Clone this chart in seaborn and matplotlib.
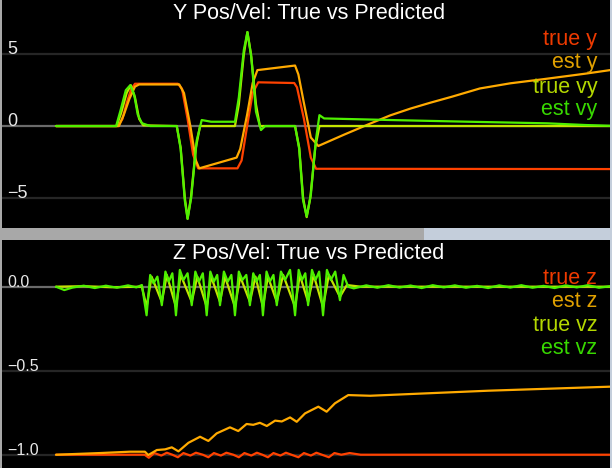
import matplotlib
matplotlib.use("Agg")
import matplotlib.pyplot as plt
import matplotlib.transforms as mtransforms
from matplotlib.patches import Rectangle
import seaborn as sns
import pandas as pd

# ---------------- data (time in s) ----------------
true_y_t = [0, 2.24, 2.40, 2.55, 2.70, 2.85, 4.40, 4.55, 4.75, 4.95, 5.13, 6.55, 6.70, 6.90, 7.10, 7.30, 8.60, 8.70, 8.95, 9.20, 9.39, 20]
true_y_v = [0, 0, 0.5, 1.6, 2.5, 2.95, 2.95, 2.6, 0.5, -2.0, -2.95, -2.95, -2.4, 0.0, 2.3, 3.05, 3.0, 2.7, 0.5, -2.2, -2.98, -3.0]

est_y_t = [0, 2.27, 2.45, 2.65, 2.85, 3.0, 4.45, 4.62, 4.85, 5.05, 5.17, 6.52, 6.65, 6.90, 7.10, 7.27, 8.63, 8.75, 8.95, 9.20, 9.47,
           10.4, 11.34, 12.06, 12.8, 13.5, 14.3, 15.3, 16.4, 17.6, 19.1, 20]
est_y_v = [0, 0, 0.8, 1.9, 2.75, 2.9, 2.9, 2.3, 0.0, -2.4, -2.95, -2.2, -1.6, 0.8, 3.0, 3.9, 4.22, 3.6, 1.6, -0.8, -1.39,
           -0.6, 0.17, 0.74, 1.22, 1.62, 2.05, 2.62, 2.98, 3.27, 3.65, 3.9]

true_vy_t = [0, 2.19, 2.35, 2.55, 2.70, 2.85, 3.0, 3.15, 4.36, 4.50, 4.65, 4.75, 4.87, 5.05, 5.20, 6.46, 6.60, 6.78, 6.91, 7.04, 7.22, 7.36, 8.63, 8.78, 8.92, 9.05, 9.18, 9.36, 9.51, 20]
true_vy_v = [0, 0, 0.9, 2.3, 2.85, 2.0, 0.5, 0.05, 0, -1.5, -5.0, -6.45, -5.0, -1.5, 0.0, 0.0, 1.5, 5.0, 6.55, 5.0, 1.5, 0.0, 0, -1.5, -5.0, -6.35, -5.0, -1.5, 0.0, 0]

est_vy_t = [0, 2.17, 2.33, 2.52, 2.68, 2.82, 2.95, 3.10, 3.40, 4.36, 4.50, 4.65, 4.75, 4.88, 5.08, 5.26, 5.6, 6.46, 6.60, 6.78, 6.91, 7.05, 7.22, 7.40, 7.55, 8.63, 8.78, 8.92, 9.05, 9.20, 9.38, 9.51, 9.68, 12.06, 14.91, 17.73, 19.13, 20]
est_vy_v = [0, 0, 1.1, 2.5, 2.85, 2.2, 0.8, 0.2, 0.0, 0.0, -1.6, -5.2, -6.48, -5.0, -1.0, 0.42, 0.3, 0.3, 2.0, 5.3, 6.55, 4.8, 1.0, -0.28, 0.0, 0.0, -1.6, -5.2, -6.3, -4.8, -1.0, 0.76, 0.53, 0.42, 0.30, 0.19, 0.07, 0.02]

true_z_t = [0, 3.2, 3.35, 3.55, 3.8, 4.0, 4.2, 4.4, 4.6, 4.85, 5.05, 5.3, 5.5, 5.7, 5.95, 6.15, 6.4, 6.6, 6.8, 7.05, 7.25, 7.45, 7.65, 7.85, 8.1, 8.3, 8.5, 8.75, 8.95, 9.2, 9.4, 9.6, 9.85, 10.05, 10.3, 10.6, 11.0, 20]
true_z_v = [-1.0, -1.0, -1.018, -0.99, -1.005, -0.988, -1.0, -1.015, -0.99, -1.005, -0.988, -1.0, -1.015, -0.99, -1.005, -0.988, -1.0, -1.015, -0.99, -1.005, -0.988, -1.0, -1.015, -0.99, -1.005, -0.988, -1.0, -1.015, -0.99, -1.005, -0.988, -1.0, -1.015, -0.99, -1.0, -0.99, -1.0, -1.0]

est_z_t = [0, 1.59, 2.67, 3.21, 3.33, 3.64, 3.94, 4.18, 4.42, 4.78, 5.20, 5.50, 5.80, 6.28, 6.58, 6.88, 7.12, 7.36, 7.61, 7.91, 8.15, 8.45, 8.69, 8.99, 9.47, 9.77, 10.07, 10.55, 11.34, 15.60, 20.0]
est_z_v = [-1.0, -0.99, -0.982, -0.982, -1.002, -0.972, -0.968, -0.956, -0.98, -0.929, -0.893, -0.918, -0.873, -0.837, -0.859, -0.817, -0.822, -0.81, -0.829, -0.797, -0.802, -0.778, -0.804, -0.754, -0.714, -0.744, -0.694, -0.645, -0.649, -0.619, -0.595]

est_vz_t = [0, 0.3, 0.6, 1.0, 1.4, 1.8, 2.2, 2.6, 2.9, 3.1,
            3.27, 3.40, 3.52, 3.66, 3.82, 3.95, 4.07, 4.20, 4.33, 4.47, 4.60, 4.75,
            4.90, 5.03, 5.16, 5.30, 5.44, 5.57, 5.70, 5.82, 5.92, 6.06, 6.20, 6.33,
            6.46, 6.60, 6.73, 6.87, 7.00, 7.12, 7.24, 7.36, 7.47, 7.60, 7.72, 7.85,
            7.97, 8.12, 8.27, 8.45, 8.63, 8.76, 8.88, 9.00, 9.10, 9.24, 9.37, 9.50,
            9.64, 9.78, 9.92, 10.08, 10.25, 10.38, 10.55, 10.75,
            11.2, 11.6, 12.0, 12.4, 12.8, 13.2, 13.6, 14.0, 14.4, 14.8, 15.2, 15.6,
            16.0, 16.4, 16.8, 17.2, 17.6, 18.0, 18.4, 18.8, 19.2, 19.6, 20.0]
est_vz_v = [0.0, -0.02, -0.005, 0.006, -0.008, 0.006, -0.006, 0.008, -0.004, 0.01,
            -0.17, 0.07, 0.02, 0.06, -0.11, 0.09, 0.03, 0.08, -0.17, 0.10, 0.04, 0.08,
            -0.11, 0.09, 0.03, 0.08, -0.17, 0.09, 0.03, 0.07, -0.11, 0.09, 0.03, 0.07,
            -0.17, 0.09, 0.04, 0.07, -0.11, 0.08, 0.03, 0.07, -0.17, 0.09, 0.03, 0.07,
            -0.11, 0.09, 0.04, 0.10, -0.17, 0.10, 0.04, 0.08, -0.11, 0.10, 0.04, 0.09,
            -0.17, 0.10, 0.04, 0.09, -0.08, 0.07, 0.0, -0.01,
            0.008, -0.006, 0.009, -0.005, 0.007, -0.008, 0.009, -0.004, 0.008, -0.006, 0.005, -0.008,
            0.008, -0.005, 0.009, -0.006, 0.005, -0.008, 0.008, -0.004, 0.009, -0.006, 0.003]

true_vz_t = [0, 1.0, 2.0, 3.1, 3.27, 3.45, 3.82, 4.0, 4.33, 4.5, 4.90, 5.1, 5.44, 5.6, 5.92, 6.1,
             6.46, 6.65, 7.00, 7.2, 7.47, 7.65, 7.97, 8.2, 8.63, 8.8, 9.10, 9.3, 9.64, 9.85, 10.25, 10.5, 11.0, 20.0]
true_vz_v = [0, 0.003, -0.003, 0.0, -0.12, 0.06, -0.09, 0.07, -0.12, 0.07, -0.09, 0.06, -0.12, 0.06, -0.09, 0.06,
             -0.12, 0.06, -0.09, 0.06, -0.12, 0.06, -0.09, 0.07, -0.12, 0.07, -0.09, 0.07, -0.12, 0.07, -0.06, 0.01, 0.0, 0.0]

top_labels = ["true y", "est y", "true vy", "est vy"]
bot_labels = ["true z", "est z", "true vz", "est vz"]
top_ticks = [5, 0, -5]
bot_ticks = [0.0, -0.5, -1.0]
top_tick_text = ["5", "0", "\u22125"]
bot_tick_text = ["0.0", "\u22120.5", "\u22121.0"]

colors = ["#ff4200", "#ffaa00", "#c4e400", "#4ef000"]
text_colors = ["#ee3a00", "#e0a000", "#b4d800", "#38d800"]

sns.set_theme(style="dark")
plt.rcParams['font.family'] = ['Liberation Sans', 'DejaVu Sans']

fig = plt.figure(figsize=(6.12, 4.68), dpi=100, facecolor="#a8a8a8")
ax1 = fig.add_axes([2/612, 240/468, 608/612, 228/468])
ax2 = fig.add_axes([2/612, 0, 608/612, 228/468])

# window chrome bits
fig.patches.append(Rectangle((424/612, 228/468), 188/612, 12/468, transform=fig.transFigure,
                             facecolor="#c4cedb", edgecolor="none", zorder=0))
fig.patches.append(Rectangle((610/612, 0), 2/612, 1, transform=fig.transFigure,
                             facecolor="#c4cedb", edgecolor="none", zorder=0))

def style(ax, ylim, ticks, ticktext, tfs, title):
    ax.set_facecolor("black")
    ax.set_xlim(-1.95, 20.0)
    ax.set_ylim(*ylim)
    for s in ax.spines.values():
        s.set_visible(False)
    ax.set_xticks([]); ax.set_yticks([])
    ax.set_xlabel(""); ax.set_ylabel("")
    trans = mtransforms.blended_transform_factory(ax.transAxes, ax.transData)
    for v, txt in zip(ticks, ticktext):
        ax.axhline(v, color="#6a6a6a" if v == 0 else "#262626", lw=1.6, zorder=1)
        ax.text(0.009, v, txt, transform=trans, color="#e8e8e8", fontsize=tfs,
                ha="left", va="baseline", zorder=5)
    ax.text(0.505, 0.985, title, transform=ax.transAxes, color="white", fontsize=15.5,
            ha="center", va="top", zorder=5)

style(ax1, (-7.11, 8.79), top_ticks, top_tick_text, 13, "Y Pos/Vel: True vs Predicted")
style(ax2, (-1.079, 0.278), bot_ticks, bot_tick_text, 11.5, "Z Pos/Vel: True vs Predicted")

top_series = [(true_y_t, true_y_v), (est_y_t, est_y_v), (true_vy_t, true_vy_v), (est_vy_t, est_vy_v)]
bot_series = [(true_z_t, true_z_v), (est_z_t, est_z_v), (true_vz_t, true_vz_v), (est_vz_t, est_vz_v)]

for ax, series, labels, ys in [(ax1, top_series, top_labels, [0.825, 0.724, 0.618, 0.518]),
                               (ax2, bot_series, bot_labels, [0.833, 0.729, 0.627, 0.526])]:
    for (t, v), c, lab, tc, yy in zip(series, colors, labels, text_colors, ys):
        df = pd.DataFrame({"t": t, "v": v})
        sns.lineplot(data=df, x="t", y="v", ax=ax, color=c, lw=1.6, estimator=None,
                     sort=False, zorder=3)
        ax.text(0.979, yy, lab, transform=ax.transAxes, color=tc, fontsize=15.5,
                ha="right", va="center", zorder=6)
    ax.set_xlabel(""); ax.set_ylabel("")

fig.savefig("out.png", dpi=100, facecolor=fig.get_facecolor())
